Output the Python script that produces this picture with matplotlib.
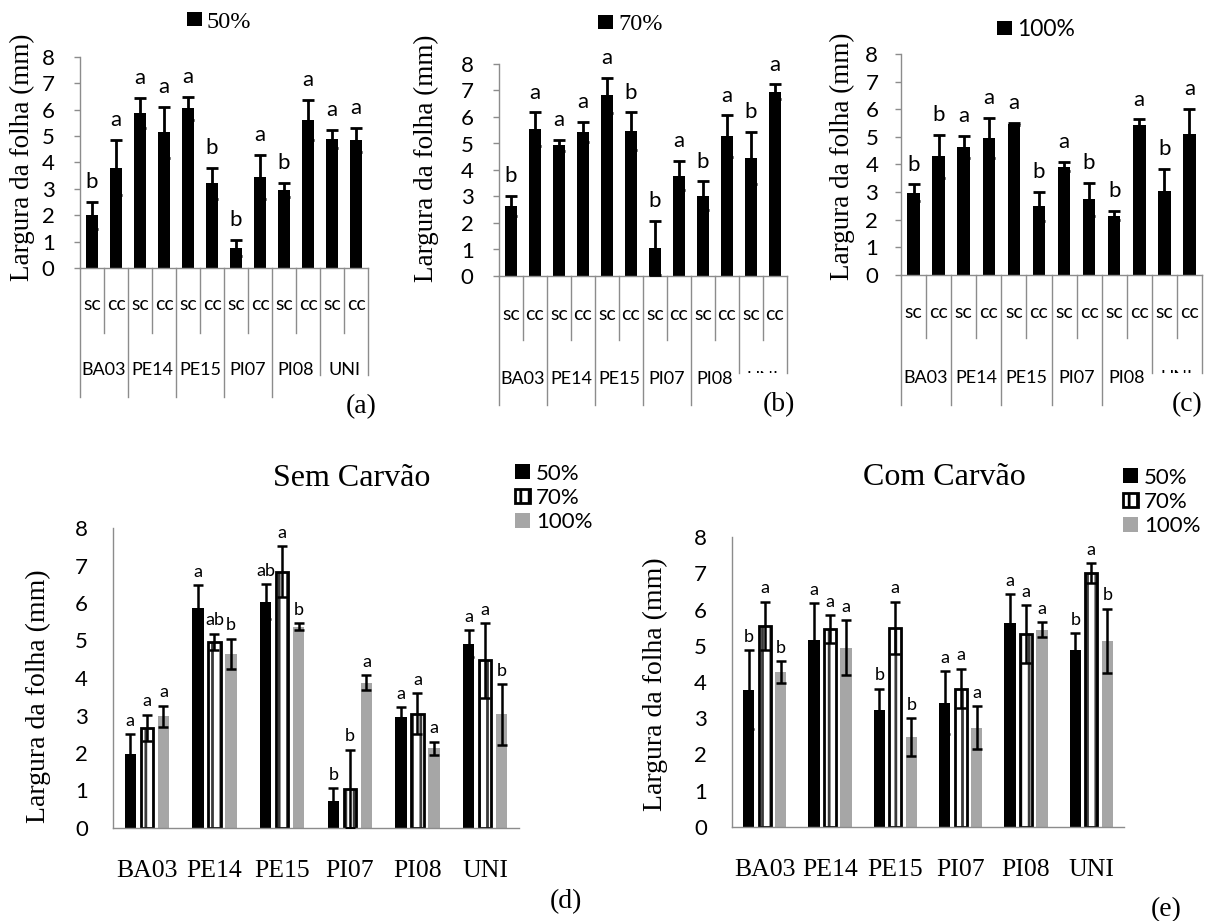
import matplotlib
matplotlib.use('Agg')
import matplotlib.pyplot as plt
import numpy as np
from matplotlib.patches import Patch
from matplotlib.transforms import Bbox

W, H = 1215, 921
plt.rcParams['hatch.linewidth'] = 2.0
fig = plt.figure(figsize=(W / 100, H / 100), dpi=100)

SERIF = 'Liberation Serif'
SANS = 'Lato'
GREY_AX = '#8c8c8c'
GREY_BAR = '#a6a6a6'

sites = ['BA03', 'PE14', 'PE15', 'PI07', 'PI08', 'UNI']
slots = ['sc', 'cc']
ylabel = 'Largura da folha (mm)'

# Panels (a)-(c): order BA03 sc, BA03 cc, PE14 sc, ... UNI cc
a_val = [2.00, 3.80, 5.88, 5.14, 6.05, 3.21, 0.75, 3.44, 2.96, 5.62, 4.90, 4.85]
a_top = [2.51, 4.85, 6.44, 6.12, 6.47, 3.80, 1.06, 4.27, 3.21, 6.38, 5.25, 5.31]
a_let = ['b', 'a', 'a', 'a', 'a', 'b', 'b', 'a', 'b', 'a', 'a', 'a']

b_val = [2.64, 5.53, 4.93, 5.43, 6.82, 5.47, 1.05, 3.79, 3.03, 5.28, 4.45, 6.95]
b_top = [3.01, 6.17, 5.15, 5.80, 7.48, 6.17, 2.08, 4.33, 3.57, 6.06, 5.43, 7.23]
b_let = ['b', 'a', 'a', 'a', 'a', 'b', 'b', 'a', 'b', 'a', 'b', 'a']

c_val = [2.98, 4.29, 4.64, 4.95, 5.46, 2.48, 3.92, 2.74, 2.15, 5.43, 3.05, 5.12]
c_top = [3.28, 5.06, 5.04, 5.68, 5.50, 3.00, 4.08, 3.34, 2.32, 5.63, 3.83, 6.01]
c_let = ['b', 'b', 'a', 'a', 'a', 'b', 'a', 'b', 'b', 'a', 'b', 'a']

# Panel (d) Sem Carvão
d50_val = [1.98, 5.88, 6.04, 0.72, 2.95, 4.92]
d50_top = [2.51, 6.48, 6.51, 1.06, 3.22, 5.27]
d50_let = ['a', 'a', 'ab', 'b', 'a', 'a']
d70_val = [2.67, 4.96, 6.84, 1.05, 3.05, 4.47]
d70_top = [3.02, 5.18, 7.52, 2.09, 3.59, 5.47]
d70_let = ['a', 'ab', 'a', 'b', 'a', 'a']
d100_val = [2.98, 4.65, 5.37, 3.88, 2.13, 3.03]
d100_top = [3.26, 5.05, 5.47, 4.08, 2.30, 3.84]
d100_let = ['a', 'b', 'b', 'a', 'a', 'b']

# Panel (e) Com Carvão
e50_val = [3.79, 5.15, 3.22, 3.43, 5.63, 4.88]
e50_top = [4.88, 6.18, 3.82, 4.30, 6.42, 5.35]
e50_let = ['b', 'a', 'b', 'a', 'a', 'b']
e70_val = [5.55, 5.46, 5.50, 3.82, 5.32, 7.00]
e70_top = [6.22, 5.85, 6.22, 4.37, 6.12, 7.27]
e70_let = ['a', 'a', 'a', 'a', 'a', 'a']
e100_val = [4.28, 4.95, 2.48, 2.74, 5.44, 5.14]
e100_top = [4.58, 5.70, 3.01, 3.34, 5.65, 6.02]
e100_let = ['b', 'a', 'b', 'a', 'a', 'b']

levels = ['50%', '70%', '100%']
y_ticks = list(range(0, 9))


def px_axes(l, t, r, b):
    return fig.add_axes([l / W, 1 - b / H, (r - l) / W, (b - t) / H])


def ftext(x, y, s, **kw):
    return fig.text(x / W, 1 - y / H, s, **kw)


def style_y(ax, ticklen, pad):
    ax.set_ylim(0, 8)
    ax.set_yticks(y_ticks)
    ax.set_yticklabels([str(v) for v in y_ticks], family=SANS, fontsize=16)
    ax.tick_params(axis='y', direction='out', length=ticklen, width=1,
                   color=GREY_AX, pad=pad)
    for s in ['top', 'right']:
        ax.spines[s].set_visible(False)
    for s in ['left', 'bottom']:
        ax.spines[s].set_color(GREY_AX)
        ax.spines[s].set_linewidth(1.0)


def top_panel(rect, vals, tops, lets, leg_label, leg_family, leg_size,
              leg_xy, geo, panel_label, label_xy, ylab_xy, tickpad):
    l, t, r, b = rect
    ax = px_axes(l, t, r, b)
    hpx = b - t
    x = np.arange(len(vals))
    vals = np.array(vals)
    err = np.array(tops) - vals
    bars = ax.bar(x, vals, width=0.5, color='black', zorder=2, label=leg_label)
    ax.errorbar(x, vals, yerr=err, fmt='none', ecolor='black', elinewidth=2,
                capsize=4.5, capthick=2, zorder=3)
    for xi, tp, lt in zip(x, tops, lets):
        ax.annotate(lt, (xi, tp), xytext=(0, 10), textcoords='offset points',
                    ha='center', va='baseline', fontsize=16, family=SANS)
    ax.set_xlim(-0.5, len(vals) - 0.5)
    ax.set_xticks([])
    style_y(ax, 4.3, tickpad)

    short_b, long_b, clip_b, sc_y, grp_y = geo
    tr = ax.get_xaxis_transform()
    n = len(vals)
    for k in range(n + 1):
        xb = -0.5 + k
        if k >= n - 2 and k % 2 == 0:
            yb = clip_b
        elif k % 2 == 0:
            yb = long_b
        else:
            yb = short_b
        ax.plot([xb, xb], [0, -(yb - b) / hpx], transform=tr, clip_on=False,
                color=GREY_AX, lw=1.0)
    for i in range(n):
        ax.text(i, -(sc_y - b) / hpx, slots[i % 2], transform=tr, ha='center',
                va='center', family=SANS, fontsize=14)
    for g, site in enumerate(sites):
        tx = ax.text(2 * g + 0.5, -(grp_y - b) / hpx, site, transform=tr,
                     ha='center', va='center', family=SANS, fontsize=13,
                     clip_on=(site == 'UNI'))
        if site == 'UNI':
            tx.set_clip_box(Bbox.from_extents(0, H - clip_b, W, H))

    fs_px = leg_size * 100 / 72
    ax.legend(handles=[bars], labels=[leg_label], loc='center left',
              bbox_to_anchor=(leg_xy[0] / W, 1 - leg_xy[1] / H),
              bbox_transform=fig.transFigure, frameon=False, borderpad=0,
              borderaxespad=0, handlelength=15 / fs_px, handleheight=13 / fs_px,
              handletextpad=5 / fs_px, prop={'family': leg_family, 'size': leg_size})
    ftext(label_xy[0], label_xy[1], panel_label, family=SERIF, fontsize=20,
          ha='center', va='center')
    ftext(ylab_xy[0], ylab_xy[1], ylabel, family=SERIF, fontsize=19.5,
          rotation=90, ha='center', va='center')
    return ax


def bottom_panel(rect, data, title, title_xy, leg_xy, panel_label, label_xy,
                 ylab_xy):
    l, t, r, b = rect
    ax = px_axes(l, t, r, b)
    x = np.arange(len(sites))
    off = 0.245
    (v50, t50, l50), (v70, t70, l70), (v100, t100, l100) = data
    h50 = ax.bar(x - off, v50, 0.17, color='black', zorder=2)
    ax.bar(x, v70, 0.18, color='white', edgecolor='#3a3a3a', hatch='||',
           lw=0, zorder=2)
    ax.bar(x, v70, 0.18, fill=False, edgecolor='black', lw=2.0, zorder=2)
    h100 = ax.bar(x + off, v100, 0.17, color=GREY_BAR, zorder=2)
    for dx, v, tp, lt in [(-off, v50, t50, l50), (0, v70, t70, l70),
                          (off, v100, t100, l100)]:
        v = np.array(v)
        err = np.array(tp) - v
        ax.errorbar(x + dx, v, yerr=err, fmt='none', ecolor='black',
                    elinewidth=1.8, capsize=3.6, capthick=1.8, zorder=3)
        for xi, tpi, li in zip(x + dx, tp, lt):
            ax.annotate(li, (xi, tpi), xytext=(0, 6), textcoords='offset points',
                        ha='center', va='baseline', fontsize=13, family=SANS)
    ax.set_xlim(-0.5, len(sites) - 0.5)
    ax.set_xticks(x)
    ax.set_xticklabels(sites, family=SERIF, fontsize=18.5)
    ax.tick_params(axis='x', length=0, pad=23)
    style_y(ax, 0, 18)

    fs = 16
    fs_px = fs * 100 / 72
    h70 = Patch(facecolor='white', edgecolor='black', hatch='||', lw=2.0)
    ax.legend(handles=[h50, h70, h100], labels=levels, loc='center left',
              bbox_to_anchor=(leg_xy[0] / W, 1 - leg_xy[1] / H),
              bbox_transform=fig.transFigure, frameon=False, borderpad=0,
              borderaxespad=0, handlelength=15 / fs_px, handleheight=14 / fs_px,
              handletextpad=6 / fs_px, labelspacing=0.2,
              prop={'family': SANS, 'size': fs})
    ftext(title_xy[0], title_xy[1], title, family=SERIF, fontsize=23,
          ha='center', va='center')
    ftext(label_xy[0], label_xy[1], panel_label, family=SERIF, fontsize=20,
          ha='center', va='center')
    ftext(ylab_xy[0], ylab_xy[1], ylabel, family=SERIF, fontsize=20,
          rotation=90, ha='center', va='center')
    return ax


top_panel((80, 57, 368, 268), a_val, a_top, a_let, '50%', SERIF, 17.5,
          (187, 22), (333, 397, 375, 305, 370), '(a)', (361, 407), (22, 157), 14)
top_panel((499, 64, 787, 276), b_val, b_top, b_let, '70%', SERIF, 17.5,
          (598, 25), (340, 405, 373, 315, 379), '(b)', (779, 405), (426, 158), 14)
top_panel((901, 54, 1202, 275), c_val, c_top, c_let, '100%', SANS, 16.5,
          (997, 30), (338, 405, 373, 313, 378), '(c)', (1187, 405), (842, 156), 12)

bottom_panel((113, 528, 519, 828),
             [(d50_val, d50_top, d50_let), (d70_val, d70_top, d70_let),
              (d100_val, d100_top, d100_let)],
             'Sem Carvão', (352, 478), (515, 498), '(d)', (566, 902), (38, 696))
bottom_panel((732, 537, 1124, 827),
             [(e50_val, e50_top, e50_let), (e70_val, e70_top, e70_let),
              (e100_val, e100_top, e100_let)],
             'Com Carvão', (944, 477), (1123, 502), '(e)', (1166, 910), (655, 684))

fig.savefig('out.png', dpi=100, facecolor='white')
